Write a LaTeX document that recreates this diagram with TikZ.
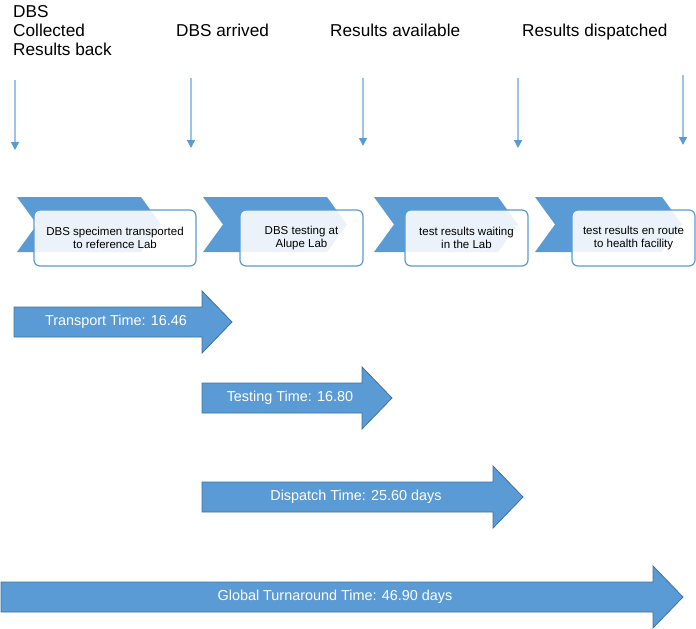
\documentclass[tikz,border=0pt]{standalone}
\usepackage{fontspec}
\setmainfont{Liberation Sans}
\usetikzlibrary{arrows.meta}
\definecolor{cblue}{HTML}{5B9BD5}
\definecolor{cline}{HTML}{9DC3E6}
\definecolor{cedge}{HTML}{41719C}
\newcommand\blockarrow[7]{%
  \draw[barrow] (#1,#4-15) -- (#2,#4-15) -- (#2,#4-31) -- (#3,#4) -- (#2,#4+31) -- (#2,#4+15) -- (#1,#4+15) -- cycle;
  \node[btext] (#6) at (#5,#4) {#7};}
\newcommand\chevronshape[2]{%
  \fill[cblue] (#1,197) -- (#2-20,197) -- (#2,224.5) -- (#2-20,252) -- (#1,252) -- (#1+20,224.5) -- cycle;}
\begin{document}
\begin{tikzpicture}[x=1pt,y=-1pt,
  toplabel/.style={anchor=base west,inner sep=0pt,font=\fontsize{17.2}{20}\selectfont},
  varrow/.style={draw=cline,line width=1.5pt,-{Triangle[width=8pt,length=8pt,color=cblue]}},
  stepbox/.style={draw=cblue,line width=1.2pt,rounded corners=6pt,fill=white,fill opacity=0.88,text opacity=1,
    minimum width=#1,minimum height=56pt,align=center,inner sep=0pt,font=\fontsize{11.5}{13}\selectfont},
  barrow/.style={fill=cblue,draw=cedge,line width=0.8pt,line join=miter},
  btext/.style={text=white,font=\fontsize{14.4}{16}\selectfont,inner sep=0pt}]
\useasboundingbox (0,0) rectangle (696,629);

% top labels
\node[toplabel] (l1) at (13,17) {DBS};
\node[toplabel] (l2) at (13,36) {Collected};
\node[toplabel] (l3) at (13,55) {Results back};
\node[toplabel] (l4) at (176,36) {DBS arrived};
\node[toplabel] (l5) at (330,36) {Results available};
\node[toplabel] (l6) at (522,36) {Results dispatched};

% vertical arrows
\foreach \i/\x/\ya/\yb in {1/15/80/150, 2/191/78/148, 3/363/78/146, 4/518/78/148, 5/683/75/145}{
  \coordinate (v\i s) at (\x,\ya);
  \coordinate (v\i e) at (\x,\yb);
  \draw[varrow] (v\i s) -- (v\i e);
}

% chevrons
\chevronshape{17}{161}
\chevronshape{203}{347}
\chevronshape{374}{518}
\chevronshape{535}{682}

% boxes
\node[stepbox=162pt] (b1) at (115,238) {DBS specimen transported\\to reference Lab};
\node[stepbox=123pt] (b2) at (301.5,238) {DBS testing at\\Alupe Lab};
\node[stepbox=123pt] (b3) at (466.5,238) {test results waiting\\in the Lab};
\node[stepbox=123pt] (b4) at (633.5,238) {test results en route\\to health facility};

% block arrows
\blockarrow{14}{202}{232}{322}{116}{t1}{Transport Time: 16.46}
\blockarrow{202}{362}{392}{398}{290}{t2}{Testing Time: 16.80}
\blockarrow{202}{493}{523}{497}{356}{t3}{Dispatch Time: 25.60 days}
\blockarrow{1}{653}{683}{597}{335}{t4}{Global Turnaround Time: 46.90 days}
\end{tikzpicture}
\end{document}
